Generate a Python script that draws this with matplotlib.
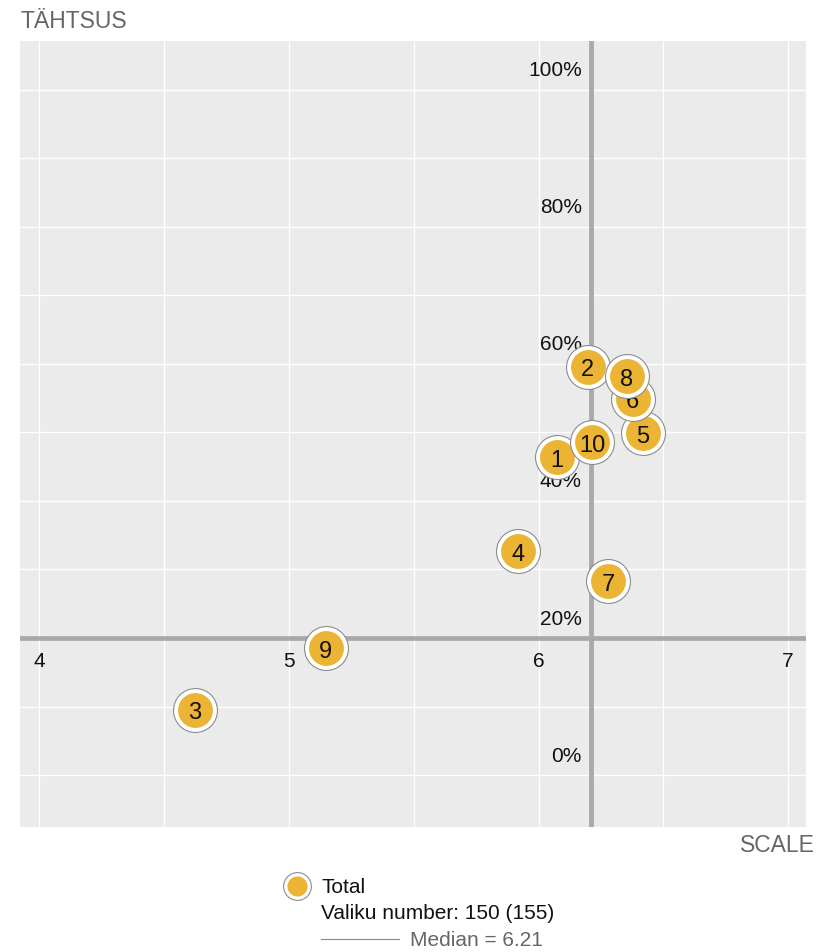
import matplotlib.pyplot as plt
import numpy as np

plt.rcParams['font.family'] = ['Liberation Sans', 'DejaVu Sans']

# andmed
labels = ['1', '2', '3', '4', '5', '6', '7', '8', '9', '10']
scale = [6.074, 6.198, 4.623, 5.918, 6.417, 6.377, 6.279, 6.353, 5.148, 6.214]
tahtsus = [46.4, 59.6, 9.5, 32.7, 49.9, 54.9, 28.3, 58.2, 18.5, 48.6]
median = 6.21
hline = 20
x_ticks = [4, 5, 6, 7]
y_ticks = [0, 20, 40, 60, 80, 100]

orange = '#EBB434'
refgray = '#A8A8AD'

fig = plt.figure(figsize=(8.38, 9.53), dpi=100)
ax = fig.add_axes([20 / 838, 1 - 828 / 953, 786 / 838, 786 / 953])
ax.set_facecolor('#EBEBEB')
for s in ax.spines.values():
    s.set_visible(False)

ax.set_xlim(3.922, 7.072)
ax.set_ylim(-7.59, 107.15)
ax.set_xticks(np.arange(4, 7.01, 0.5))
ax.set_yticks(np.arange(0, 101, 10))
ax.tick_params(length=0, labelbottom=False, labelleft=False)
ax.grid(True, color='white', lw=1)
ax.set_axisbelow(True)

ax.axvline(median, color=refgray, lw=3.4, zorder=2)
ax.axhline(hline, color=refgray, lw=3.4, zorder=2)

# tekstid telgedel
for v in x_ticks:
    ax.annotate(str(v), (v, hline), xytext=(0, -22), textcoords='offset pixels',
                ha='center', va='center', fontsize=15, color='#111111', zorder=3)
for v in y_ticks:
    ax.annotate('%d%%' % v, (median, v), xytext=(-9, 20), textcoords='offset pixels',
                ha='right', va='center', fontsize=15, color='#111111', zorder=3)

# punktid
for i in range(len(labels)):
    z = 10 + i * 3
    ax.scatter(scale[i], tahtsus[i], s=1000, color='white', edgecolor='#8C8C8C',
               linewidth=0.8, zorder=z)
    ax.scatter(scale[i], tahtsus[i], s=630, color=orange, linewidth=0, zorder=z + 1)
    ax.text(scale[i], tahtsus[i], labels[i], ha='center', va='center_baseline',
            fontsize=17, color='#111111', zorder=z + 2)

fig.text(20 / 838, 1 - 22 / 953, 'TÄHTSUS', ha='left', va='center', fontsize=16.5, color='#666666')
fig.text(815 / 838, 1 - 845 / 953, 'SCALE', ha='right', va='center', fontsize=16.5, color='#666666')

# legend
lg = fig.add_axes([0, 0, 1, 1], facecolor='none')
lg.set_xlim(0, 838)
lg.set_ylim(953, 0)
lg.axis('off')
lg.scatter(297, 887, s=400, color='white', edgecolor='#8C8C8C', linewidth=0.8)
lg.scatter(297, 887, s=210, color=orange, linewidth=0)
lg.text(321, 888, 'Total', ha='left', va='center', fontsize=15, color='#111111')
lg.text(321, 914, 'Valiku number: 150 (155)', ha='left', va='center', fontsize=15, color='#111111')
lg.plot([321, 399], [940, 940], color='#888888', lw=0.8)
lg.text(410, 941, 'Median = %.2f' % median, ha='left', va='center', fontsize=15, color='#666666')

fig.savefig('out.png', dpi=100)
